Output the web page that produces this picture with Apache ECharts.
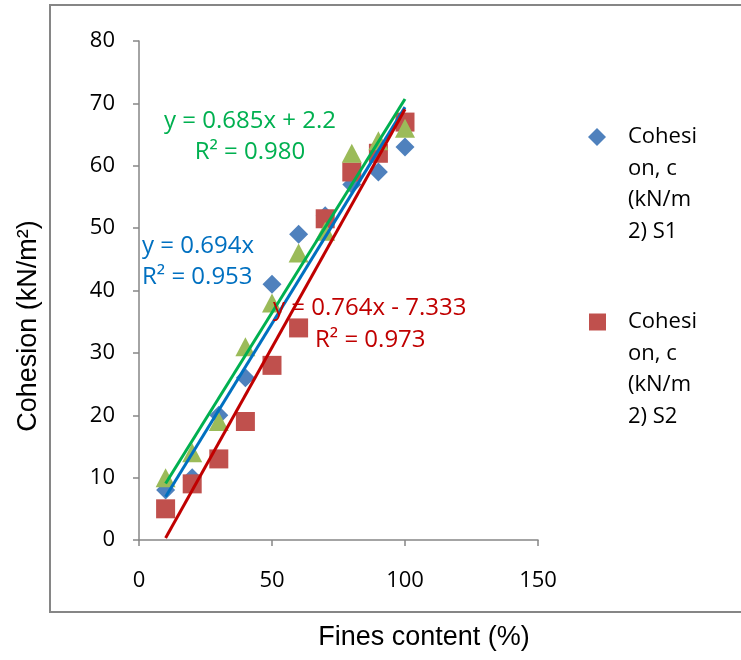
<!DOCTYPE html>
<html><head><meta charset="utf-8">
<script src="https://cdn.jsdelivr.net/npm/echarts@6/dist/echarts.min.js"></script>
<style>html,body{margin:0;padding:0;background:#fff}#c{width:741px;height:660px}</style>
</head><body><div id="c"></div>
<script>
// ---- data ----
const finesContent = [10, 20, 30, 40, 50, 60, 70, 80, 90, 100];
const cohesionS1 = [8, 10, 20, 26, 41, 49, 52, 57, 59, 63];
const cohesionS2 = [5, 9, 13, 19, 28, 34, 51.5, 59, 62, 67];
const cohesionS3 = [10, 14, 19, 31, 38, 46, 49.5, 62, 64, 66];
const trendSlopes = [0.694, 0.764, 0.685];
const trendIntercepts = [0, -7.333, 2.2];
const trendEquations = ['y = 0.694x', 'y = 0.764x - 7.333', 'y = 0.685x + 2.2'];
const trendR2 = ['R² = 0.953', 'R² = 0.973', 'R² = 0.980'];
const legendNames = ['Cohesi\non, c\n(kN/m\n2) S1', 'Cohesi\non, c\n(kN/m\n2) S2'];
const xAxisTitle = 'Fines content (%)';
const yAxisTitle = 'Cohesion (kN/m²)';
const xTickMin = 0, xTickMax = 150, xTickStep = 50;
const yTickMin = 0, yTickMax = 80, yTickStep = 10;

// ---- styles ----
const markerColors = ['#4F81BD', '#C0504D', '#9BBB59'];
const lineColors = ['#0070C0', '#C00000', '#00B050'];
const symbols = ['diamond', 'rect', 'triangle'];
const symbolSizes = [[19, 19], [19, 19], [20, 19]];
const tickFont = '"Open Sans", sans-serif';
const titleFont = '"Liberation Sans", Arial, sans-serif';

const pairs = arr => finesContent.map((x, i) => [x, arr[i]]);
const seriesData = [cohesionS1, cohesionS2, cohesionS3];
const xFirst = finesContent[0], xLast = finesContent[finesContent.length - 1];

const series = [];
seriesData.forEach((d, i) => {
  series.push({
    type: 'scatter', name: 'S' + (i + 1), data: pairs(d),
    symbol: symbols[i], symbolSize: symbolSizes[i],
    itemStyle: { color: markerColors[i], opacity: 1 }, z: 2 + i, silent: true
  });
});
[0, 1, 2].forEach(i => {
  const f = x => trendSlopes[i] * x + trendIntercepts[i];
  series.push({
    type: 'line', data: [[xFirst, f(xFirst)], [xLast, f(xLast)]],
    symbol: 'none', lineStyle: { color: lineColors[i], width: 3 }, z: 10 + i, silent: true
  });
});

const annotations = [
  { i: 2, lines: [trendEquations[2], trendR2[2]], x: 250, y: [121, 152], align: 'center' },
  { i: 0, lines: [trendEquations[0], trendR2[0]], x: 142, y: [246, 277], align: 'left' },
  { i: 1, lines: [trendEquations[1]], x: 273, y: [308], align: 'left' },
  { i: 1, lines: [trendR2[1]], x: 315, y: [340], align: 'left' }
];
const graphic = [
  { type: 'rect', shape: { x: 50, y: 5, width: 720, height: 607 }, style: { fill: 'none', stroke: '#868686', lineWidth: 2 }, silent: true, z: 0 }
];
annotations.forEach(a => {
  a.lines.forEach((t, k) => {
    graphic.push({ type: 'text', x: a.x, y: a.y[k], z: 50,
      style: { text: t, fill: lineColors[a.i], font: '24px ' + tickFont, textAlign: a.align, textVerticalAlign: 'middle', align: a.align, verticalAlign: 'middle' } });
  });
});
// legend (drawn)
const legendY = [137, 322];
legendNames.forEach((n, i) => {
  if (i === 0) {
    graphic.push({ type: 'polygon', shape: { points: [[597, legendY[i] - 9], [606, legendY[i]], [597, legendY[i] + 9], [588, legendY[i]]] }, style: { fill: markerColors[0] } });
  } else {
    graphic.push({ type: 'rect', shape: { x: 589, y: legendY[i] - 8.5, width: 17, height: 17 }, style: { fill: markerColors[1] } });
  }
  graphic.push({ type: 'text', x: 628, y: legendY[i] - 15.75,
    style: { text: n, fill: '#000', font: '22px ' + tickFont, lineHeight: 31.5, verticalAlign: 'top', textVerticalAlign: 'top' } });
});
// axis titles
graphic.push({ type: 'text', x: 424, y: 638, style: { text: xAxisTitle, fill: '#000', font: '27px ' + titleFont, align: 'center', verticalAlign: 'middle', textAlign: 'center', textVerticalAlign: 'middle' } });
graphic.push({ type: 'text', x: 29, y: 326, rotation: Math.PI / 2, style: { text: yAxisTitle, fill: '#000', font: '27px ' + titleFont, align: 'center', verticalAlign: 'middle', textAlign: 'center', textVerticalAlign: 'middle' } });

const axisCommon = {
  type: 'value', splitLine: { show: false },
  axisLine: { show: true, onZero: false, lineStyle: { color: '#868686', width: 1.5 } },
  axisTick: { show: true, length: 6, lineStyle: { color: '#868686', width: 1.5 } },
  axisLabel: { color: '#000', fontFamily: tickFont, fontSize: 22 }
};
const option = {
  backgroundColor: '#fff',
  animation: false,
  grid: { left: 139, right: 203, top: 41, bottom: 120, containLabel: false },
  xAxis: Object.assign({}, axisCommon, { min: xTickMin, max: xTickMax, interval: xTickStep,
    axisLabel: Object.assign({}, axisCommon.axisLabel, { margin: 30 }) }),
  yAxis: Object.assign({}, axisCommon, { min: yTickMin, max: yTickMax, interval: yTickStep,
    axisLabel: Object.assign({}, axisCommon.axisLabel, { margin: 24 }) }),
  series: series,
  graphic: graphic
};
const chart = echarts.init(document.getElementById('c'), null, { renderer: 'canvas' });
chart.setOption(option);
</script>
</body></html>
